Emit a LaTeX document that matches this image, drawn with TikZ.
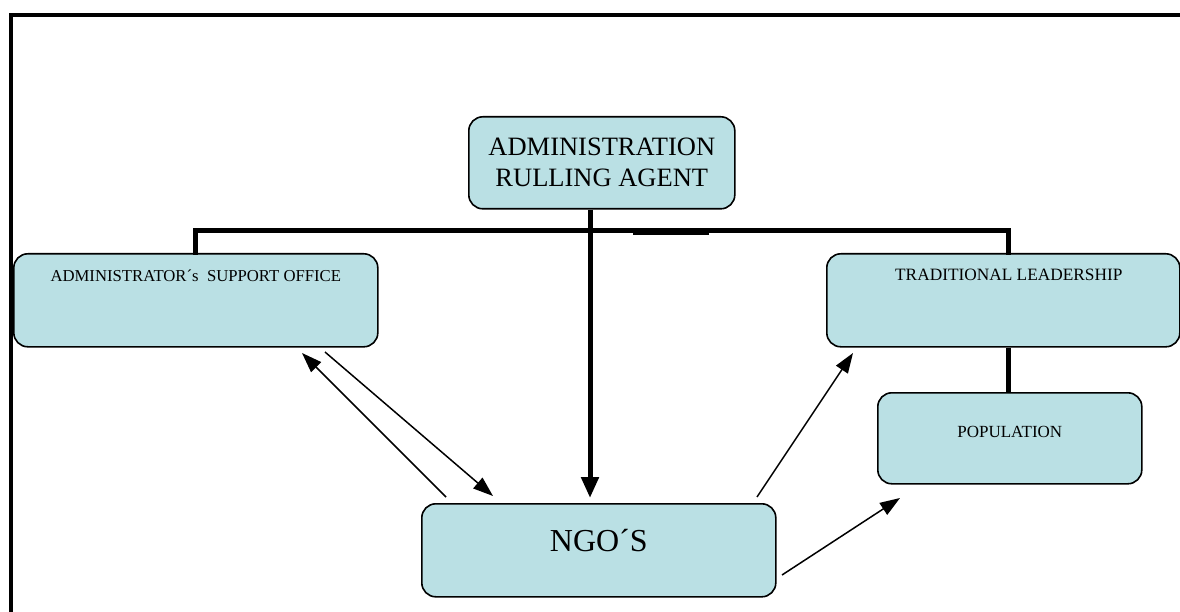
\documentclass[tikz,border=0pt]{standalone}
\usepackage{fontspec}
\setmainfont{Liberation Serif}
\usetikzlibrary{arrows.meta}
\definecolor{boxc}{RGB}{186,224,228}
\tikzset{
  orgbox/.style={draw=black, line width=1.6pt, fill=boxc, rounded corners=14pt,
    inner sep=0pt, anchor=north west, align=center},
  busline/.style={line width=5pt, line cap=rect},
  framel/.style={line width=4pt, line join=miter},
  thinarrow/.style={line width=1.5pt, -{Triangle[length=20pt,width=14pt]}},
  thickarrow/.style={line width=5pt, -{Triangle[length=21pt,width=17pt]}},
}
\begin{document}
\begin{tikzpicture}[x=1pt,y=-1pt]
\useasboundingbox (0,0) rectangle (1180,612);
% frame
\coordinate (frBL) at (11,612);
\coordinate (frTR) at (1180,14.7);
\draw[framel] (frBL) |- (frTR);

% boxes
\node[orgbox, minimum width=266pt, minimum height=92pt,
  font=\fontsize{26.5}{31}\selectfont] (admin) at (468,116)
  {ADMINISTRATION\\RULLING AGENT};
\node[orgbox, minimum width=364pt, text height=27.5pt, text depth=65.5pt,
  font=\fontsize{16.7}{20}\selectfont] (aso) at (13,253)
  {ADMINISTRATOR\textasciiacute s\ \ SUPPORT OFFICE};
\node[orgbox, minimum width=353pt, text height=26.6pt, text depth=66.4pt,
  font=\fontsize{17.3}{20}\selectfont] (tl) at (826,253)
  {\hspace*{11pt}TRADITIONAL LEADERSHIP};
\node[orgbox, minimum width=264pt, text height=44.6pt, text depth=46.4pt,
  font=\fontsize{17}{20}\selectfont] (pop) at (877,392)
  {POPULATION};
\node[orgbox, minimum width=354pt, text height=47.5pt, text depth=45.5pt,
  font=\fontsize{32}{36}\selectfont] (ngo) at (421,503)
  {NGO\textasciiacute S};

% bus
\coordinate (busL) at (195,231);
\coordinate (busR) at (1008,231);
\coordinate (busM) at (590,231);
\coordinate (segA) at (633,232);
\coordinate (segB) at (709,232);
\draw[busline] (busL |- aso.north) -- (busL) -- (busR) -- (busR |- tl.north);
\draw[line width=7pt] (segA) -- (segB);
\draw[busline, line cap=butt] (busR |- tl.south) -- (busR |- pop.north);

% central arrow
\draw[thickarrow, shorten >=5pt] (busM |- admin.south) -- (busM |- ngo.north);

% thin arrows
\coordinate (a1s) at (446,497); \coordinate (a1e) at (302,353);
\coordinate (a2s) at (325,352); \coordinate (a2e) at (493,496);
\coordinate (a3s) at (757,497); \coordinate (a3e) at (853,353);
\coordinate (a4s) at (782,575); \coordinate (a4e) at (900,498);
\draw[thinarrow] (a1s) -- (a1e);
\draw[thinarrow] (a2s) -- (a2e);
\draw[thinarrow] (a3s) -- (a3e);
\draw[thinarrow] (a4s) -- (a4e);
\end{tikzpicture}
\end{document}
